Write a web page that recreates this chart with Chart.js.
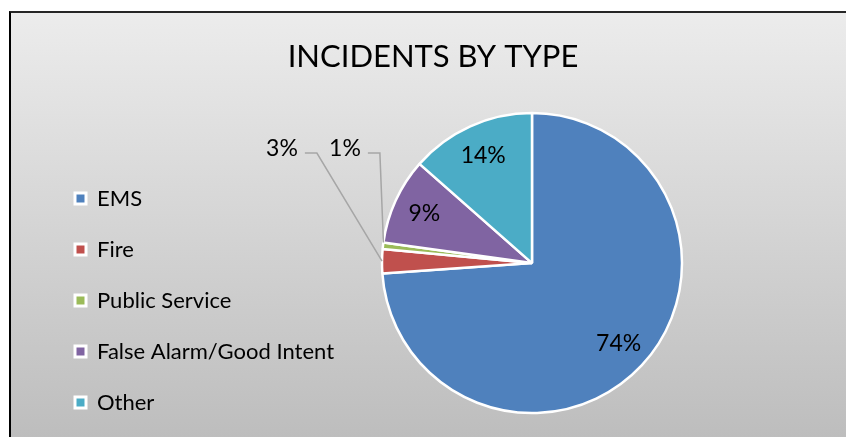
<!DOCTYPE html>
<html><head><meta charset="utf-8">
<script src="https://cdn.jsdelivr.net/npm/chart.js@4/dist/chart.umd.min.js"></script>
<style>
html,body{margin:0;padding:0;background:#fff;}
#wrap{position:relative;width:846px;height:437px;overflow:hidden;}
#frame{position:absolute;left:9px;top:11px;width:900px;height:500px;border-left:2px solid #000;border-top:2px solid #262626;background:linear-gradient(to bottom,#ececec 0px,#bdbdbd 426px);}
canvas{position:absolute;left:0;top:0;}
</style></head><body>
<div id="wrap"><div id="frame"></div><canvas id="c" width="846" height="437"></canvas></div>
<script>
const categories = ['EMS', 'Fire', 'Public Service', 'False Alarm/Good Intent', 'Other'];
const shares = [73.9, 2.6, 0.7, 9.3, 13.5];
const colors = ['#4F81BD', '#C0504D', '#9BBB59', '#8064A2', '#4BACC6'];
const chartTitle = 'INCIDENTS BY TYPE';
const outsideLabels = [1, 2]; // slices labelled outside with leader lines

const FONT = 'Lato, "Open Sans", sans-serif';

const labelPlugin = {
  id: 'pctLabels',
  afterLayout(chart) {
    // let legend text extend past the narrowed legend box (no clipping)
    const lg = chart.legend;
    if (lg) { lg.right = lg.left + 330; lg.width = 330; }
  },
  afterDatasetsDraw(chart) {
    const ctx = chart.ctx;
    const meta = chart.getDatasetMeta(0);
    const data = chart.data.datasets[0].data;
    const total = data.reduce((a, b) => a + b, 0);
    ctx.save();
    ctx.font = '23px ' + FONT;
    ctx.fillStyle = '#000';
    ctx.textBaseline = 'middle';
    ctx.textAlign = 'center';
    const outsideOffsets = {1: {dx: -250, dy: -115}, 2: {dx: -187, dy: -115}};
    meta.data.forEach((arc, i) => {
      const p = arc.getProps(['x', 'y', 'startAngle', 'endAngle', 'outerRadius'], true);
      const mid = (p.startAngle + p.endAngle) / 2;
      const txt = Math.round(data[i] / total * 100) + '%';
      if (outsideLabels.includes(i)) {
        const o = outsideOffsets[i];
        const tx = p.x + o.dx, ty = p.y + o.dy;
        const w = ctx.measureText(txt).width;
        ctx.fillText(txt, tx, ty);
        const ang = i === 2 ? p.endAngle : mid;
        const ex = p.x + Math.cos(ang) * p.outerRadius;
        const ey = p.y + Math.sin(ang) * p.outerRadius;
        ctx.beginPath();
        ctx.strokeStyle = '#a6a6a6';
        ctx.lineWidth = 1.5;
        ctx.moveTo(tx + w / 2 + 7, ty + 5);
        ctx.lineTo(tx + w / 2 + 19, ty + 5);
        ctx.lineTo(ex, ey);
        ctx.stroke();
      } else {
        const r = p.outerRadius * 0.79;
        ctx.fillText(txt, p.x + Math.cos(mid) * r, p.y + Math.sin(mid) * r);
      }
    });
    ctx.restore();
  }
};

new Chart(document.getElementById('c'), {
  type: 'pie',
  data: {
    labels: categories,
    datasets: [{
      data: shares,
      backgroundColor: colors,
      borderColor: '#ffffff',
      borderWidth: 2.5
    }]
  },
  options: {
    responsive: false,
    animation: false,
    radius: 150,
    layout: {padding: {left: 46, right: 26, top: 0, bottom: -5.5}},
    plugins: {
      tooltip: {enabled: false},
      title: {
        display: true,
        text: chartTitle,
        color: '#000',
        font: {family: FONT, size: 31, weight: 'normal', lineHeight: 1.2},
        padding: {top: 38, bottom: 14}
      },
      legend: {
        position: 'left',
        align: 'end',
        maxWidth: 198,
        labels: {
          color: '#000',
          font: {family: FONT, size: 22},
          boxWidth: 11,
          boxHeight: 11,
          padding: 29,
          generateLabels(chart) {
            const ds = chart.data.datasets[0];
            return chart.data.labels.map((l, i) => ({
              text: l,
              fillStyle: ds.backgroundColor[i],
              strokeStyle: '#ffffff',
              lineWidth: 3,
              hidden: false,
              index: i
            }));
          }
        }
      }
    }
  },
  plugins: [labelPlugin]
});
</script>
</body></html>
